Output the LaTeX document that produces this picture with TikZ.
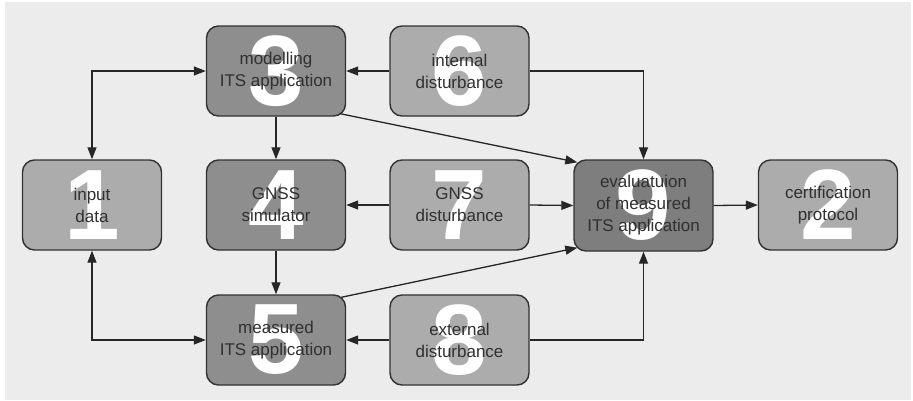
\documentclass[tikz,border=0pt]{standalone}
\usepackage{fontspec}
\setmainfont{Liberation Sans}
\usetikzlibrary{arrows.meta,calc}

\definecolor{panel}{RGB}{236,236,236}
\definecolor{boxlight}{RGB}{172,172,172}
\definecolor{boxmid}{RGB}{142,142,142}
\definecolor{boxdark}{RGB}{126,126,126}
\definecolor{edgecol}{RGB}{50,50,50}
\definecolor{txtcol}{RGB}{48,48,48}

\tikzset{
  digit/.style={text=white, font=\fontsize{100}{100}\selectfont\bfseries, inner sep=0pt},
  box/.style={rounded corners=12pt, draw=edgecol, line width=1.4pt,
    minimum width=139pt, minimum height=90pt, align=center,
    text=txtcol, font=\fontsize{17}{22}\selectfont,
    path picture={\node[digit] at (path picture bounding box.center) {#1};}},
  light/.style={fill=boxlight},
  mid/.style={fill=boxmid},
  dark/.style={fill=boxdark},
  link/.style={draw=black!85, line width=1.3pt, -{Triangle[length=12pt,width=9pt]}},
  twoway/.style={link, {Triangle[length=12pt,width=9pt]}-{Triangle[length=12pt,width=9pt]}}
}

\begin{document}
\begin{tikzpicture}[x=1pt,y=-1pt]
  % page and panel
  \useasboundingbox (0,0) rectangle (913,400);
  \fill[white] (0,0) rectangle (913,400);
  \fill[panel] (5,2) rectangle (911,400);

  % process blocks
  \node[box=3, mid]   (b3) at (276,71)    {modelling\\ITS application};
  \node[box=6, light] (b6) at (459.5,71)  {internal\\disturbance};
  \node[box=1, light] (b1) at (92,205)    {input\\data};
  \node[box=4, mid]   (b4) at (276,205)   {GNSS\\simulator};
  \node[box=7, light] (b7) at (459.5,205) {GNSS\\disturbance};
  \node[box=9, dark, minimum height=91pt] (b9) at (643.5,205.5) {evaluatuion\\of measured\\ITS application};
  \node[box=2, light] (b2) at (828,205)   {certification\\protocol};
  \node[box=5, mid]   (b5) at (276,340)   {measured\\ITS application};
  \node[box=8, light] (b8) at (459.5,340) {external\\disturbance};

  % data flow
  \draw[twoway] (b1.north) |- (b3.west);
  \draw[twoway] (b1.south) |- (b5.west);
  \draw[link] (b6.west) -- (b3.east);
  \draw[link] (b3.south) -- (b4.north);
  \draw[link] (b6.east) -| (b9.north);
  \draw[link] ($(b3.south east)+(-6,-3)$) -- ($(b9.north west)+(4,3)$);
  \draw[link] (b7.west) -- (b4.east);
  \draw[link] (b7.east) -- (b9.west);
  \draw[link] (b9.east) -- (b2.west);
  \draw[link] (b4.south) -- (b5.north);
  \draw[link] ($(b5.north east)+(-5,3)$) -- ($(b9.south west)+(4,-4)$);
  \draw[link] (b8.west) -- (b5.east);
  \draw[link] (b8.east) -| (b9.south);
\end{tikzpicture}
\end{document}
